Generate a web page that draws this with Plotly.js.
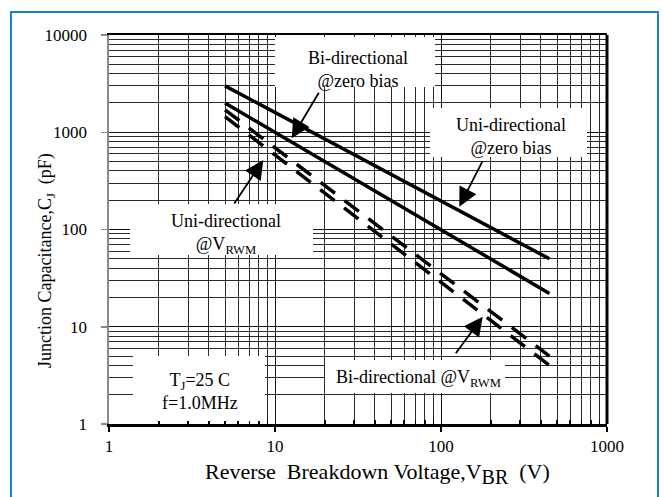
<!DOCTYPE html>
<html>
<head>
<meta charset="utf-8">
<script src="https://cdn.plot.ly/plotly-3.0.1.min.js"></script>
<style>
  html, body { margin: 0; padding: 0; background: #fff; }
  #wrap { position: relative; width: 665px; height: 497px; overflow: hidden; }
  #chart { width: 665px; height: 497px; }
  #frame { position: absolute; left: 10px; top: 11px; width: 649px; height: 500px;
           border: 2px solid #1f7fd6; pointer-events: none; box-sizing: border-box; }
</style>
</head>
<body>
<div id="wrap"><div id="chart"></div><div id="frame"></div></div>
<script>
// ---- data ----
const voltage      = [5, 10, 20, 50, 100, 200, 450];          // V_BR (V)
const uniZeroBias  = [3000, 1600, 850, 370, 195, 104, 50];    // pF
const biZeroBias   = [2000, 1000, 500, 200, 100, 50, 22];     // pF
const uniVrwm      = [1700, 693, 282, 86, 35, 14.3, 5];       // pF
const biVrwm       = [1450, 585, 235, 71, 28.7, 11.5, 4];     // pF

const xTickVals = [1, 10, 100, 1000];
const xTickText = ['1', '10', '100', '1000'];
const yTickVals = [1, 10, 100, 1000, 10000];
const yTickText = ['1', '10', '100', '1000', '10000'];

// ---- layout helpers ----
const W = 665, H = 497, L = 109, R = 58, T = 35, B = 73;
const PW = W - L - R, PH = H - T - B;
const px = x => (x - L) / PW;
const py = y => (H - B - y) / PH;

function minorVals(decades) {
  const v = [];
  for (let d = 0; d < decades; d++) for (let k = 2; k <= 9; k++) v.push(k * Math.pow(10, d));
  return v;
}

const serif = "'Liberation Serif', 'Times New Roman', serif";
const solid = { color: '#000', width: 3.5 };
const dashed = { color: '#000', width: 3.5, dash: '18px,12px' };

const traces = [
  { x: voltage, y: uniZeroBias, mode: 'lines', line: solid, name: 'Uni-directional @zero bias' },
  { x: voltage, y: biZeroBias, mode: 'lines', line: solid, name: 'Bi-directional @zero bias' },
  { x: voltage, y: uniVrwm, mode: 'lines', line: dashed, name: 'Uni-directional @VRWM' },
  { x: voltage, y: biVrwm, mode: 'lines', line: dashed, name: 'Bi-directional @VRWM' }
];

function box(x0, y0, x1, y1) {
  return { type: 'rect', xref: 'paper', yref: 'paper', layer: 'above',
           x0: px(x0), x1: px(x1), y0: py(y1), y1: py(y0),
           fillcolor: '#fff', line: { width: 0 } };
}
function label(text, x, y, size, angle) {
  return { text: text, xref: 'paper', yref: 'paper', x: px(x), y: py(y),
           xanchor: 'center', yanchor: 'middle', showarrow: false, align: 'center',
           textangle: angle || 0,
           font: { family: serif, size: size || 18, color: '#000' } };
}
function arrow(x, y, ax, ay) {
  return { text: '', xref: 'paper', yref: 'paper', x: px(x), y: py(y), ax: ax, ay: ay,
           showarrow: true, arrowhead: 2, arrowsize: 2.1, arrowwidth: 1.8, arrowcolor: '#000' };
}

const layout = {
  width: W, height: H,
  margin: { l: L, r: R, t: T, b: B },
  paper_bgcolor: '#fff', plot_bgcolor: '#fff',
  showlegend: false,
  font: { family: serif, color: '#000' },
  xaxis: {
    type: 'log', range: [0, 3],
    tickmode: 'array', tickvals: xTickVals, ticktext: xTickText,
    ticks: 'outside', ticklen: 5, tickwidth: 1.5, tickcolor: '#000',
    tickfont: { family: serif, size: 17, color: '#000' },
    ticklabelstandoff: 0,
    showline: true, linecolor: '#000', linewidth: 2.5, mirror: true,
    showgrid: true, gridcolor: '#111', gridwidth: 1,
    minor: { tickmode: 'array', tickvals: minorVals(3), showgrid: true, gridcolor: '#2a2a2a', gridwidth: 1,
             ticks: 'inside', ticklen: 4, tickcolor: '#000' },
    zeroline: false
  },
  yaxis: {
    type: 'log', range: [0, 4],
    tickmode: 'array', tickvals: yTickVals, ticktext: yTickText,
    ticks: 'outside', ticklen: 6, tickwidth: 1.5, tickcolor: '#888',
    tickfont: { family: serif, size: 17, color: '#000' },
    ticklabelstandoff: 10,
    showline: true, linecolor: '#888', linewidth: 2.5,
    showgrid: true, gridcolor: '#111', gridwidth: 1,
    minor: { tickmode: 'array', tickvals: minorVals(4), showgrid: true, gridcolor: '#2a2a2a', gridwidth: 1 },
    zeroline: false
  },
  shapes: [
    box(275, 37, 435, 87),
    box(430, 108, 587, 157),
    box(130, 204, 313, 255),
    box(133, 356, 265, 421),
    box(325, 360, 505, 393),
    { type: 'line', xref: 'paper', yref: 'paper', x0: 1, x1: 1, y0: 0, y1: 1,
      line: { color: '#000', width: 3 }, layer: 'above' }
  ],
  annotations: [
    label('Reverse  Breakdown Voltage,V<sub><span style="font-size:20px">BR</span></sub>  (V)', 377, 473, 22),
    label('Junction Capacitance,C<sub>J</sub>  (pF)', 46, 261, 18, -90),
    label('Bi-directional<br>@zero bias', 358, 69),
    label('Uni-directional<br>@zero bias', 511, 136),
    label('Uni-directional<br>@V<sub>RWM</sub>', 226, 234),
    label('T<sub>J</sub>=25 C<br>f=1.0MHz', 200, 391),
    label('Bi-directional @V<sub>RWM</sub>', 418, 378),
    arrow(291.7, 138.3, 28, -47),
    arrow(459.3, 206.7, 24, -47),
    arrow(263.3, 160, -30, 45),
    arrow(482.7, 316.7, -28, 38)
  ]
};

Plotly.newPlot('chart', traces, layout, { staticPlot: true, displayModeBar: false });
</script>
</body>
</html>
